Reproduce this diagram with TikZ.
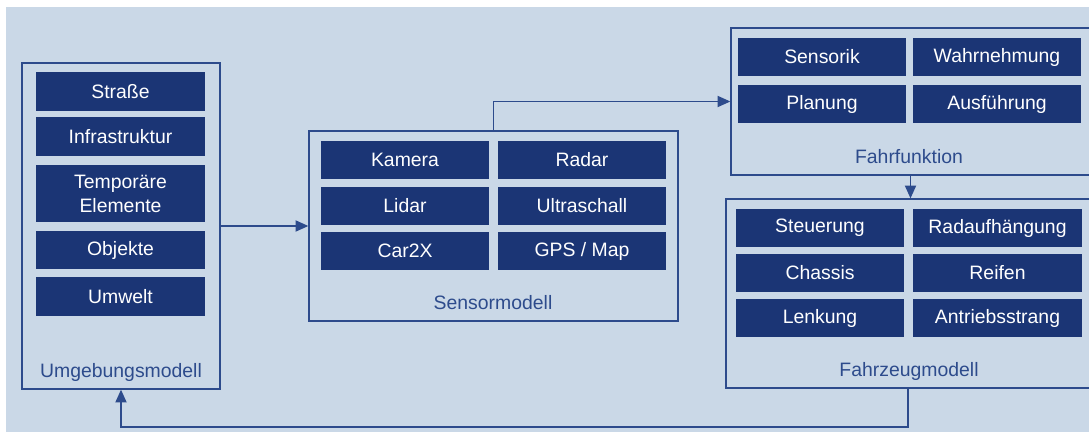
\documentclass[tikz,border=0pt]{standalone}
\usepackage{fontspec}
\setmainfont{Liberation Sans}
\usepackage{tikz}
\usetikzlibrary{positioning, arrows.meta, calc}

\definecolor{bgblue}{HTML}{CAD8E7}
\definecolor{navy}{HTML}{1B3575}
\definecolor{frameblue}{HTML}{2D4B8C}

\begin{document}
\begin{tikzpicture}[
  x=0.025cm, y=-0.025cm,
  item/.style={rectangle, fill=navy, text=white, minimum width=4.2cm, minimum height=0.95cm, inner sep=0pt, align=center, font=\fontsize{13.8}{16}\selectfont},
  frame/.style={rectangle, draw=frameblue, line width=0.9pt, inner sep=0pt},
  title/.style={text=frameblue, font=\fontsize{13.8}{16}\selectfont},
  arr/.style={-{Triangle[length=3.2mm, width=2.8mm]}, draw=frameblue, line width=0.9pt},
]
  \useasboundingbox (0,0) rectangle (1089,432);
  \fill[bgblue] (6,7) rectangle (1089,432);

  % Umgebungsmodell
  \node[frame, minimum width=4.95cm, minimum height=8.15cm] (umg) at (121, 226) {};
  \node[item] (strasse) at (120.5, 91.5) {Straße};
  \node[item] (infra) at (120.5, 136.5) {Infrastruktur};
  \node[item, minimum height=1.425cm, font=\fontsize{13.8}{17}\selectfont] (temp) at (120.5, 193.5) {Temporäre\\Elemente};
  \node[item] (obj) at (120.5, 250) {Objekte};
  \node[item] (umwelt) at (120.5, 296.5) {Umwelt};
  \node[title] (umgtitle) at (121, 372) {Umgebungsmodell};

  % Sensormodell
  \node[frame, minimum width=9.225cm, minimum height=4.75cm] (sen) at (493.5, 226) {};
  \node[item] (kamera) at (405, 160) {Kamera};
  \node[item] (radar) at (582, 160) {Radar};
  \node[item] (lidar) at (405, 206) {Lidar};
  \node[item] (ultra) at (582, 206) {Ultraschall};
  \node[item] (car2x) at (405, 251) {Car2X};
  \node[item] (gps) at (582, 251) {GPS / Map};
  \node[title] (sentitle) at (493, 303) {Sensormodell};

  % Fahrfunktion
  \node[frame, minimum width=8.975cm, minimum height=3.675cm] (fahr) at (910.5, 101.5) {};
  \node[item] (sensorik) at (822, 57) {Sensorik};
  \node[item] (wahr) at (997, 57) {Wahrnehmung};
  \node[item] (planung) at (822, 104) {Planung};
  \node[item] (ausf) at (997, 104) {Ausführung};
  \node[title] (fahrtitle) at (909, 157) {Fahrfunktion};

  % Fahrzeugmodell
  \node[frame, minimum width=9.1cm, minimum height=4.725cm] (fz) at (908, 293.5) {};
  \node[item] (steuer) at (820, 228) {Steuerung};
  \node[item] (rad) at (997.5, 228) {Radaufhängung};
  \node[item] (chassis) at (820, 273) {Chassis};
  \node[item] (reifen) at (997.5, 273) {Reifen};
  \node[item] (lenk) at (820, 318) {Lenkung};
  \node[item] (antrieb) at (997.5, 318) {Antriebsstrang};
  \node[title] (fztitle) at (909, 371) {Fahrzeugmodell};

  % Verbindungen
  \coordinate (back) at (121, 427);
  \draw[arr] (umg) -- (sen);
  \draw[arr] (sen.north) |- (fahr.west);
  \draw[arr] (fahr.south) -- (fahr.south |- fz.north);
  \draw[arr] (fz.south) |- (back) -- (umg.south);
\end{tikzpicture}
\end{document}
